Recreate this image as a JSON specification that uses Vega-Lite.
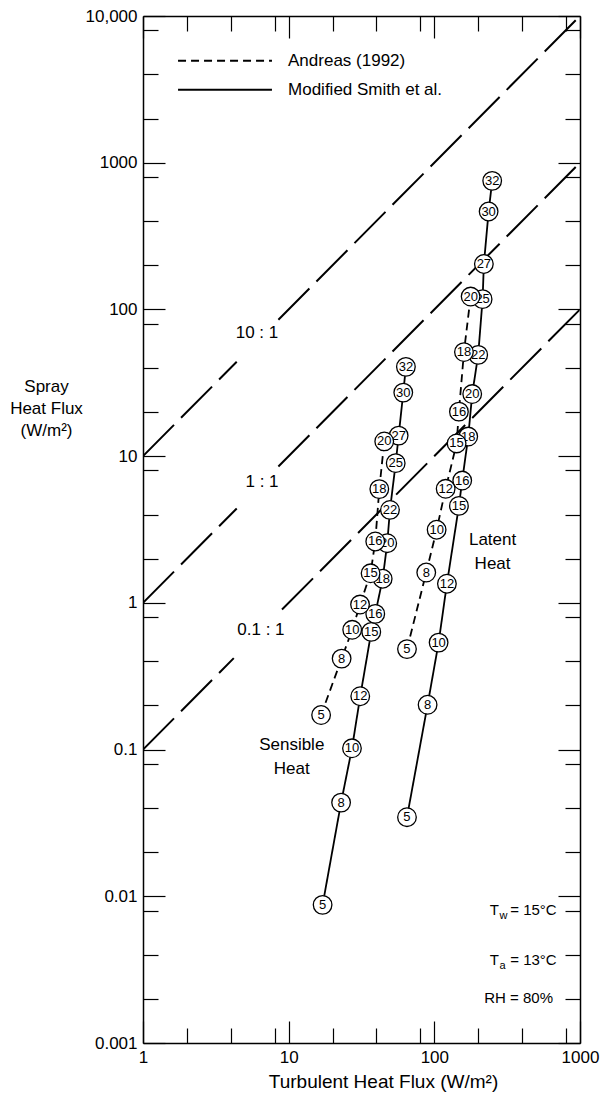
{
  "$schema": "https://vega.github.io/schema/vega-lite/v6.json",
  "width": 437,
  "height": 1027,
  "autosize": {"type": "none"},
  "padding": {"left": 143, "top": 16, "right": 30, "bottom": 58},
  "background": "white",
  "config": {
    "font": "Liberation Sans",
    "view": {"stroke": null},
    "axis": {
      "domainColor": "black", "domainWidth": 1.5, "tickColor": "black", "tickWidth": 1.2,
      "grid": false, "labelColor": "black", "titleColor": "black",
      "labelFont": "Liberation Sans", "titleFont": "Liberation Sans",
      "labelFontSize": 17, "titleFontSize": 17, "titleFontWeight": "normal",
      "labelOverlap": false, "labelFlush": false, "labelBound": false
    }
  },
  "datasets": {
    "ratios": [
      {"seg": "10a", "x": 1, "y": 10}, {"seg": "10a", "x": 4.4, "y": 44},
      {"seg": "10b", "x": 8.5, "y": 85}, {"seg": "10b", "x": 1000, "y": 10000},
      {"seg": "1a", "x": 1, "y": 1}, {"seg": "1a", "x": 4.4, "y": 4.4},
      {"seg": "1b", "x": 8.5, "y": 8.5}, {"seg": "1b", "x": 1000, "y": 1000},
      {"seg": "0.1a", "x": 1, "y": 0.1}, {"seg": "0.1a", "x": 4.2, "y": 0.42},
      {"seg": "0.1b", "x": 9, "y": 0.9}, {"seg": "0.1b", "x": 1000, "y": 100}
    ],
    "points": [
      {"model": "Modified Smith et al.", "type": "Sensible", "u": 5, "x": 17.1, "y": 0.00874},
      {"model": "Modified Smith et al.", "type": "Sensible", "u": 8, "x": 22.9, "y": 0.0435},
      {"model": "Modified Smith et al.", "type": "Sensible", "u": 10, "x": 27.2, "y": 0.102},
      {"model": "Modified Smith et al.", "type": "Sensible", "u": 12, "x": 31.0, "y": 0.231},
      {"model": "Modified Smith et al.", "type": "Sensible", "u": 15, "x": 36.9, "y": 0.634},
      {"model": "Modified Smith et al.", "type": "Sensible", "u": 16, "x": 39.3, "y": 0.841},
      {"model": "Modified Smith et al.", "type": "Sensible", "u": 18, "x": 44.2, "y": 1.46},
      {"model": "Modified Smith et al.", "type": "Sensible", "u": 20, "x": 47.5, "y": 2.55},
      {"model": "Modified Smith et al.", "type": "Sensible", "u": 22, "x": 49.6, "y": 4.30},
      {"model": "Modified Smith et al.", "type": "Sensible", "u": 25, "x": 54.3, "y": 8.96},
      {"model": "Modified Smith et al.", "type": "Sensible", "u": 27, "x": 56.9, "y": 13.8},
      {"model": "Modified Smith et al.", "type": "Sensible", "u": 30, "x": 61.2, "y": 27.1},
      {"model": "Modified Smith et al.", "type": "Sensible", "u": 32, "x": 63.8, "y": 40.6},
      {"model": "Modified Smith et al.", "type": "Latent", "u": 5, "x": 64.9, "y": 0.0346},
      {"model": "Modified Smith et al.", "type": "Latent", "u": 8, "x": 89.9, "y": 0.202},
      {"model": "Modified Smith et al.", "type": "Latent", "u": 10, "x": 107, "y": 0.536},
      {"model": "Modified Smith et al.", "type": "Latent", "u": 12, "x": 122, "y": 1.35},
      {"model": "Modified Smith et al.", "type": "Latent", "u": 15, "x": 147.5, "y": 4.58},
      {"model": "Modified Smith et al.", "type": "Latent", "u": 16, "x": 155.4, "y": 6.82},
      {"model": "Modified Smith et al.", "type": "Latent", "u": 18, "x": 170.9, "y": 13.6},
      {"model": "Modified Smith et al.", "type": "Latent", "u": 20, "x": 182, "y": 26.5},
      {"model": "Modified Smith et al.", "type": "Latent", "u": 22, "x": 200, "y": 49.0},
      {"model": "Modified Smith et al.", "type": "Latent", "u": 25, "x": 214.5, "y": 117.5},
      {"model": "Modified Smith et al.", "type": "Latent", "u": 27, "x": 218.8, "y": 204},
      {"model": "Modified Smith et al.", "type": "Latent", "u": 30, "x": 235.9, "y": 465},
      {"model": "Modified Smith et al.", "type": "Latent", "u": 32, "x": 249.6, "y": 752},
      {"model": "Andreas (1992)", "type": "Sensible", "u": 5, "x": 16.7, "y": 0.172},
      {"model": "Andreas (1992)", "type": "Sensible", "u": 8, "x": 23.1, "y": 0.417},
      {"model": "Andreas (1992)", "type": "Sensible", "u": 10, "x": 27.3, "y": 0.655},
      {"model": "Andreas (1992)", "type": "Sensible", "u": 12, "x": 30.9, "y": 0.974},
      {"model": "Andreas (1992)", "type": "Sensible", "u": 15, "x": 36.5, "y": 1.59},
      {"model": "Andreas (1992)", "type": "Sensible", "u": 16, "x": 39.3, "y": 2.62},
      {"model": "Andreas (1992)", "type": "Sensible", "u": 18, "x": 41.9, "y": 5.96},
      {"model": "Andreas (1992)", "type": "Sensible", "u": 20, "x": 45.3, "y": 12.6},
      {"model": "Andreas (1992)", "type": "Latent", "u": 5, "x": 64.9, "y": 0.484},
      {"model": "Andreas (1992)", "type": "Latent", "u": 8, "x": 88.0, "y": 1.61},
      {"model": "Andreas (1992)", "type": "Latent", "u": 10, "x": 103.7, "y": 3.15},
      {"model": "Andreas (1992)", "type": "Latent", "u": 12, "x": 119.6, "y": 5.99},
      {"model": "Andreas (1992)", "type": "Latent", "u": 15, "x": 142.2, "y": 12.2},
      {"model": "Andreas (1992)", "type": "Latent", "u": 16, "x": 147.5, "y": 20.1},
      {"model": "Andreas (1992)", "type": "Latent", "u": 18, "x": 159.7, "y": 51.2},
      {"model": "Andreas (1992)", "type": "Latent", "u": 20, "x": 177.5, "y": 122.4}
    ],
    "legend": [
      {"model": "Andreas (1992)", "x": 1.74, "x2": 7.68, "tx": 9.9, "y": 4950},
      {"model": "Modified Smith et al.", "x": 1.74, "x2": 7.68, "tx": 9.9, "y": 3140}
    ],
    "notes": [
      {"group": "center", "text": "10 : 1", "x": 6.06, "y": 69.3},
      {"group": "center", "text": "1 : 1", "x": 6.56, "y": 6.68},
      {"group": "center", "text": "0.1 : 1", "x": 6.45, "y": 0.655},
      {"group": "center", "text": "Latent\nHeat", "x": 251, "y": 2.69},
      {"group": "center", "text": "Sensible\nHeat", "x": 10.5, "y": 0.1076},
      {"group": "left", "text": "T", "x": 240, "y": 0.00808},
      {"group": "sub", "text": "w", "x": 280, "y": 0.00808},
      {"group": "left", "text": "= 15°C", "x": 332, "y": 0.00808},
      {"group": "left", "text": "T", "x": 240, "y": 0.00368},
      {"group": "sub", "text": "a", "x": 280, "y": 0.00368},
      {"group": "left", "text": "= 13°C", "x": 332, "y": 0.00368},
      {"group": "left", "text": "RH = 80%", "x": 220, "y": 0.00203}
    ]
  },
  "resolve": {"axis": {"x": "independent", "y": "independent"}},
  "layer": [
    {
      "data": {"name": "ratios"},
      "mark": {"type": "line", "color": "black", "strokeWidth": 2, "strokeDash": [44, 10], "clip": true},
      "encoding": {
        "x": {
          "field": "x", "type": "quantitative",
          "scale": {"type": "log", "domain": [1, 1000], "nice": false},
          "axis": {
            "orient": "bottom",
            "values": [1, 2, 4, 8, 10, 20, 40, 80, 100, 200, 400, 800, 1000],
            "tickSize": {"condition": {"test": "indexof([1,10,100,1000], datum.value) >= 0", "value": -22}, "value": -15},
            "labelPadding": 28,
            "labelExpr": "indexof([1,10,100,1000], datum.value) >= 0 ? format(datum.value, 'd') : ''",
            "title": "Turbulent Heat Flux (W/m²)",
            "titleFontSize": 19,
            "titleX": 240, "titleY": 38, "titleAlign": "center", "titleBaseline": "middle"
          }
        },
        "y": {
          "field": "y", "type": "quantitative",
          "scale": {"type": "log", "domain": [0.001, 10000], "nice": false},
          "axis": {
            "orient": "left",
            "values": [0.001, 0.002, 0.004, 0.008, 0.01, 0.02, 0.04, 0.08, 0.1, 0.2, 0.4, 0.8, 1, 2, 4, 8, 10, 20, 40, 80, 100, 200, 400, 800, 1000, 2000, 4000, 8000, 10000],
            "tickSize": {"condition": {"test": "indexof([0.001,0.01,0.1,1,10,100,1000,10000], datum.value) >= 0", "value": -22}, "value": -15},
            "labelPadding": 28,
            "labelExpr": "indexof([0.001,0.01,0.1,1,10,100,1000,10000], datum.value) >= 0 ? (datum.value >= 10000 ? '10,000' : (datum.value >= 1 ? format(datum.value, 'd') : format(datum.value, '~g'))) : ''",
            "title": ["Spray", "Heat Flux", "(W/m²)"],
            "titleAngle": 0, "titleAlign": "center", "titleBaseline": "top",
            "titleX": -97, "titleY": 362, "titleLineHeight": 22
          }
        },
        "detail": {"field": "seg", "type": "nominal"}
      }
    },
    {
      "data": {"name": "points"},
      "mark": {"type": "line", "color": "black", "strokeWidth": 1.8},
      "encoding": {
        "x": {
          "field": "x", "type": "quantitative",
          "scale": {"type": "log", "domain": [1, 1000], "nice": false},
          "axis": {
            "orient": "top",
            "values": [1, 2, 4, 8, 10, 20, 40, 80, 100, 200, 400, 800, 1000],
            "tickSize": {"condition": {"test": "indexof([1,10,100,1000], datum.value) >= 0", "value": -22}, "value": -15},
            "labels": false, "title": null
          }
        },
        "y": {
          "field": "y", "type": "quantitative",
          "scale": {"type": "log", "domain": [0.001, 10000], "nice": false},
          "axis": {
            "orient": "right",
            "values": [0.001, 0.002, 0.004, 0.008, 0.01, 0.02, 0.04, 0.08, 0.1, 0.2, 0.4, 0.8, 1, 2, 4, 8, 10, 20, 40, 80, 100, 200, 400, 800, 1000, 2000, 4000, 8000, 10000],
            "tickSize": {"condition": {"test": "indexof([0.001,0.01,0.1,1,10,100,1000,10000], datum.value) >= 0", "value": -22}, "value": -15},
            "labels": false, "title": null
          }
        },
        "detail": {"field": "type", "type": "nominal"},
        "strokeDash": {
          "field": "model", "type": "nominal",
          "scale": {"domain": ["Andreas (1992)", "Modified Smith et al."], "range": [[8, 5], [1, 0]]},
          "legend": null
        },
        "order": {"field": "u", "type": "quantitative"}
      }
    },
    {
      "data": {"name": "points"},
      "transform": [{"filter": "datum.model == 'Modified Smith et al.'"}],
      "mark": {"type": "circle", "size": 346, "fill": "white", "stroke": "black", "strokeWidth": 1.3, "opacity": 1},
      "encoding": {
        "x": {"field": "x", "type": "quantitative", "scale": {"type": "log", "domain": [1, 1000], "nice": false}, "axis": null},
        "y": {"field": "y", "type": "quantitative", "scale": {"type": "log", "domain": [0.001, 10000], "nice": false}, "axis": null}
      }
    },
    {
      "data": {"name": "points"},
      "transform": [{"filter": "datum.model == 'Modified Smith et al.'"}],
      "mark": {"type": "text", "fontSize": 13, "font": "Liberation Sans", "color": "black", "align": "center", "baseline": "middle"},
      "encoding": {
        "x": {"field": "x", "type": "quantitative", "scale": {"type": "log", "domain": [1, 1000], "nice": false}, "axis": null},
        "y": {"field": "y", "type": "quantitative", "scale": {"type": "log", "domain": [0.001, 10000], "nice": false}, "axis": null},
        "text": {"field": "u", "type": "nominal"}
      }
    },
    {
      "data": {"name": "points"},
      "transform": [{"filter": "datum.model == 'Andreas (1992)'"}],
      "mark": {"type": "circle", "size": 346, "fill": "white", "stroke": "black", "strokeWidth": 1.3, "opacity": 1},
      "encoding": {
        "x": {"field": "x", "type": "quantitative", "scale": {"type": "log", "domain": [1, 1000], "nice": false}, "axis": null},
        "y": {"field": "y", "type": "quantitative", "scale": {"type": "log", "domain": [0.001, 10000], "nice": false}, "axis": null}
      }
    },
    {
      "data": {"name": "points"},
      "transform": [{"filter": "datum.model == 'Andreas (1992)'"}],
      "mark": {"type": "text", "fontSize": 13, "font": "Liberation Sans", "color": "black", "align": "center", "baseline": "middle"},
      "encoding": {
        "x": {"field": "x", "type": "quantitative", "scale": {"type": "log", "domain": [1, 1000], "nice": false}, "axis": null},
        "y": {"field": "y", "type": "quantitative", "scale": {"type": "log", "domain": [0.001, 10000], "nice": false}, "axis": null},
        "text": {"field": "u", "type": "nominal"}
      }
    },
    {
      "data": {"name": "legend"},
      "mark": {"type": "rule", "color": "black", "strokeWidth": 2},
      "encoding": {
        "x": {"field": "x", "type": "quantitative", "scale": {"type": "log", "domain": [1, 1000], "nice": false}, "axis": null},
        "x2": {"field": "x2"},
        "y": {"field": "y", "type": "quantitative", "scale": {"type": "log", "domain": [0.001, 10000], "nice": false}, "axis": null},
        "strokeDash": {
          "field": "model", "type": "nominal",
          "scale": {"domain": ["Andreas (1992)", "Modified Smith et al."], "range": [[8, 5], [1, 0]]},
          "legend": null
        }
      }
    },
    {
      "data": {"name": "legend"},
      "mark": {"type": "text", "fontSize": 17, "font": "Liberation Sans", "color": "black", "align": "left", "baseline": "middle"},
      "encoding": {
        "x": {"field": "tx", "type": "quantitative", "scale": {"type": "log", "domain": [1, 1000], "nice": false}, "axis": null},
        "y": {"field": "y", "type": "quantitative", "scale": {"type": "log", "domain": [0.001, 10000], "nice": false}, "axis": null},
        "text": {"field": "model", "type": "nominal"}
      }
    },
    {
      "data": {"name": "notes"},
      "transform": [{"filter": "datum.group == 'center'"}],
      "mark": {"type": "text", "fontSize": 17, "font": "Liberation Sans", "color": "black", "align": "center", "baseline": "middle", "lineBreak": "\n", "lineHeight": 24},
      "encoding": {
        "x": {"field": "x", "type": "quantitative", "scale": {"type": "log", "domain": [1, 1000], "nice": false}, "axis": null},
        "y": {"field": "y", "type": "quantitative", "scale": {"type": "log", "domain": [0.001, 10000], "nice": false}, "axis": null},
        "text": {"field": "text", "type": "nominal"}
      }
    },
    {
      "data": {"name": "notes"},
      "transform": [{"filter": "datum.group == 'left'"}],
      "mark": {"type": "text", "fontSize": 15, "font": "Liberation Sans", "color": "black", "align": "left", "baseline": "middle"},
      "encoding": {
        "x": {"field": "x", "type": "quantitative", "scale": {"type": "log", "domain": [1, 1000], "nice": false}, "axis": null},
        "y": {"field": "y", "type": "quantitative", "scale": {"type": "log", "domain": [0.001, 10000], "nice": false}, "axis": null},
        "text": {"field": "text", "type": "nominal"}
      }
    },
    {
      "data": {"name": "notes"},
      "transform": [{"filter": "datum.group == 'sub'"}],
      "mark": {"type": "text", "fontSize": 11, "font": "Liberation Sans", "color": "black", "align": "left", "baseline": "middle", "dy": 6},
      "encoding": {
        "x": {"field": "x", "type": "quantitative", "scale": {"type": "log", "domain": [1, 1000], "nice": false}, "axis": null},
        "y": {"field": "y", "type": "quantitative", "scale": {"type": "log", "domain": [0.001, 10000], "nice": false}, "axis": null},
        "text": {"field": "text", "type": "nominal"}
      }
    }
  ]
}
